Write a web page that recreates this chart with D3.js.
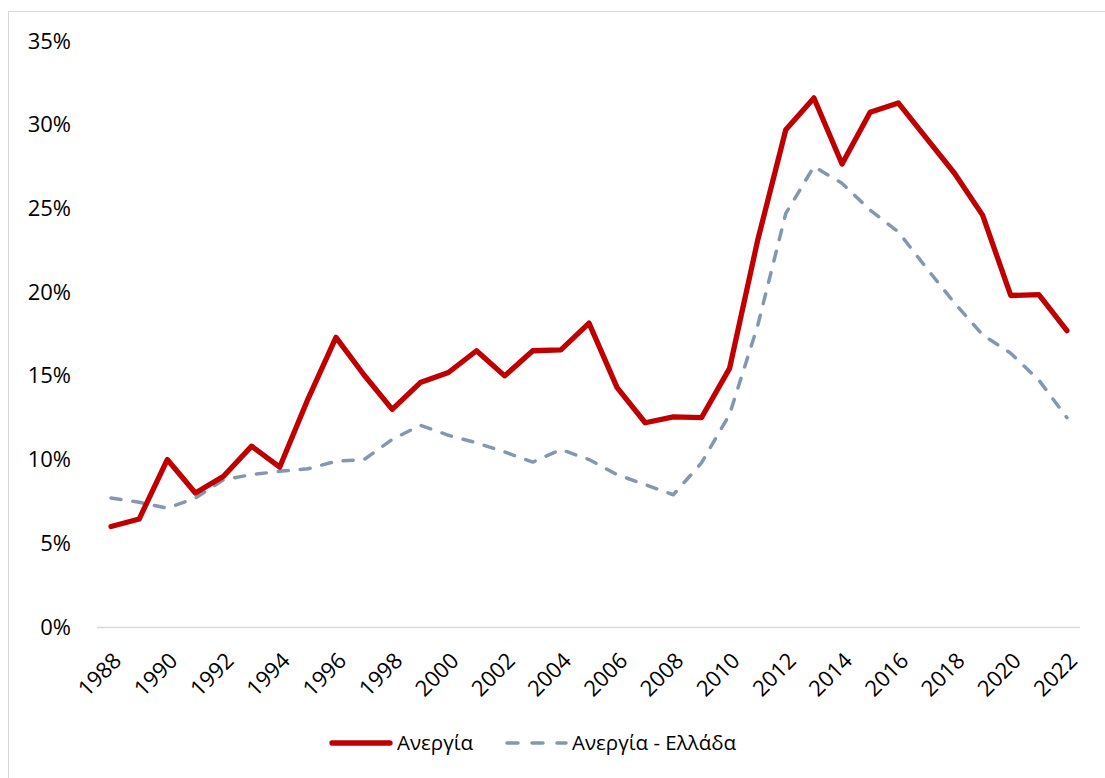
<!DOCTYPE html>
<html>
<head>
<meta charset="utf-8">
<script src="https://cdn.jsdelivr.net/npm/d3@7"></script>
<style>
  body { margin: 0; background: #fff; }
  svg { display: block; font-family: "Open Sans", "Noto Sans", sans-serif; }
</style>
</head>
<body>
<svg id="chart" width="1105" height="778"></svg>
<script>
// Annual unemployment rate (%), 1988–2022
const years = d3.range(1988, 2023);
const unemployment = [
  6.0, 6.45, 10.0, 8.0, 9.0, 10.8, 9.55, 13.6, 17.3, 15.05,
  13.0, 14.6, 15.2, 16.5, 15.0, 16.5, 16.55, 18.15, 14.3, 12.2,
  12.55, 12.5, 15.45, 23.1, 29.7, 31.6, 27.65, 30.75, 31.3, 29.2,
  27.1, 24.6, 19.8, 19.85, 17.7
];
const unemploymentGreece = [
  7.7, 7.45, 7.1, 7.7, 8.8, 9.1, 9.3, 9.45, 9.9, 10.0,
  11.2, 12.05, 11.45, 11.0, 10.45, 9.85, 10.6, 10.0, 9.1, 8.5,
  7.9, 9.8, 12.7, 18.0, 24.7, 27.5, 26.5, 24.9, 23.6, 21.45,
  19.35, 17.45, 16.35, 14.75, 12.5
];
const yTicks = [0, 5, 10, 15, 20, 25, 30, 35];
const xTickYears = d3.range(1988, 2023, 2);
const seriesNames = ["Ανεργία", "Ανεργία - Ελλάδα"];

const svg = d3.select("#chart");
const FONT = 22;
const LEGEND_FONT = 20.5;

// outer frame
svg.append("rect")
  .attr("x", 8.5).attr("y", 11.5)
  .attr("width", 1105).attr("height", 780)
  .attr("fill", "none").attr("stroke", "#d9d9d9").attr("stroke-width", 1);

const plot = { left: 97, right: 1081, top: 41, bottom: 627 };

const x = d3.scalePoint()
  .domain(years)
  .range([plot.left, plot.right])
  .padding(0.5);

const y = d3.scaleLinear()
  .domain([0, 35])
  .range([plot.bottom, plot.top]);

// y axis labels
const yAxis = d3.axisLeft(y)
  .tickValues(yTicks)
  .tickFormat(d => d + "%")
  .tickSize(0)
  .tickPadding(0);
const gy = svg.append("g")
  .attr("transform", `translate(${71},0)`)
  .call(yAxis);
gy.select(".domain").remove();
gy.selectAll("text")
  .attr("font-size", FONT)
  .attr("fill", "#000")
  .attr("font-family", "Open Sans, Noto Sans, sans-serif");

// x axis baseline
svg.append("line")
  .attr("x1", plot.left).attr("x2", plot.right - 1)
  .attr("y1", plot.bottom + 0.5).attr("y2", plot.bottom + 0.5)
  .attr("stroke", "#d9d9d9").attr("stroke-width", 1.5);

// x axis labels
const xAxis = d3.axisBottom(x)
  .tickValues(xTickYears)
  .tickSize(0)
  .tickPadding(0);
const gx = svg.append("g")
  .attr("transform", `translate(0,${plot.bottom})`)
  .call(xAxis);
gx.select(".domain").remove();
gx.selectAll("text")
  .attr("font-size", FONT)
  .attr("fill", "#000")
  .attr("font-family", "Open Sans, Noto Sans, sans-serif")
  .attr("text-anchor", "end")
  .attr("dy", null)
  .attr("dominant-baseline", "middle")
  .attr("transform", "translate(7,31) rotate(-45)");

// series lines
const line = d3.line()
  .x((d, i) => x(years[i]))
  .y(d => y(d));

svg.append("path")
  .datum(unemploymentGreece)
  .attr("d", line)
  .attr("fill", "none")
  .attr("stroke", "#8497B0")
  .attr("stroke-width", 3.5)
  .attr("stroke-dasharray", "10,12")
  .attr("stroke-linecap", "round")
  .attr("stroke-linejoin", "round");

svg.append("path")
  .datum(unemployment)
  .attr("d", line)
  .attr("fill", "none")
  .attr("stroke", "#C00000")
  .attr("stroke-width", 5.3)
  .attr("stroke-linecap", "round")
  .attr("stroke-linejoin", "round");

// legend
const legend = svg.append("g").attr("transform", "translate(0,743)");
legend.append("line")
  .attr("x1", 332).attr("x2", 390).attr("y1", 0).attr("y2", 0)
  .attr("stroke", "#C00000").attr("stroke-width", 5.3).attr("stroke-linecap", "round");
legend.append("text")
  .attr("x", 397).attr("y", 0).attr("dy", "0.35em")
  .attr("font-size", LEGEND_FONT).text(seriesNames[0]);
legend.append("line")
  .attr("x1", 507).attr("x2", 566).attr("y1", 0).attr("y2", 0)
  .attr("stroke", "#8497B0").attr("stroke-width", 3.5)
  .attr("stroke-dasharray", "11,14").attr("stroke-linecap", "round");
legend.append("text")
  .attr("x", 572).attr("y", 0).attr("dy", "0.35em")
  .attr("font-size", LEGEND_FONT).text(seriesNames[1]);
</script>
</body>
</html>
